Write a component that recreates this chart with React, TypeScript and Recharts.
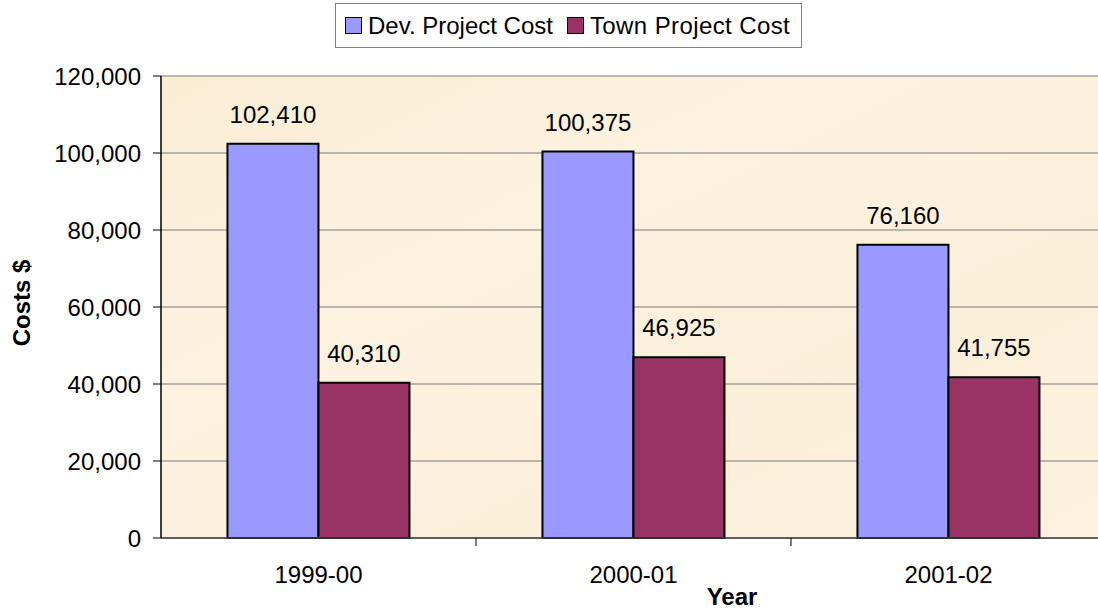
import React from 'react';
import { BarChart, Bar, XAxis, YAxis, CartesianGrid, LabelList } from 'recharts';

const categories = ['1999-00', '2000-01', '2001-02'];
const devCost = [102410, 100375, 76160];
const townCost = [40310, 46925, 41755];
const yTicks = [0, 20000, 40000, 60000, 80000, 100000, 120000];
const seriesNames = ['Dev. Project Cost', 'Town Project Cost'];

const data = categories.map((c, i) => ({ year: c, dev: devCost[i], town: townCost[i] }));

const W = 1098;
const H = 611;
const CHART_W = 1106;
const M = { top: 76, right: 0, bottom: 0, left: 0 };
const YAXIS_W = 161;
const XAXIS_H = 73;
const PLOT_W = CHART_W - M.left - M.right - YAXIS_W;
const BAND = PLOT_W / categories.length;
const FONT = '"Liberation Sans", Arial, sans-serif';
const FS = 24;
const DEV_COLOR = '#9999FF';
const TOWN_COLOR = '#993366';

const fmt = (v: number) => v.toLocaleString('en-US');

const XTick = (props: any) => {
  const { x, y, payload, index } = props;
  return (
    <g>
      {index > 0 && (
        <line x1={x - BAND / 2} x2={x - BAND / 2} y1={y} y2={y + 8} stroke="#000" strokeWidth={1} />
      )}
      <text x={x} y={y + 45} textAnchor="middle" fontFamily={FONT} fontSize={FS} fill="#000">
        {payload.value}
      </text>
    </g>
  );
};

export default function App() {
  return (
    <div style={{ position: 'absolute', left: 0, top: 0, width: W, height: H, overflow: 'hidden', background: '#fff', fontFamily: FONT }}>
      <BarChart
        width={CHART_W}
        height={H}
        data={data}
        margin={M}
        barCategoryGap="21.1%"
        barGap={0}
      >
        <defs>
          <linearGradient id="parch" x1="0" y1="0" x2="1" y2="1">
            <stop offset="0%" stopColor="#FBEDD4" />
            <stop offset="35%" stopColor="#FCF2E0" />
            <stop offset="70%" stopColor="#FBEFD9" />
            <stop offset="100%" stopColor="#FCF2DF" />
          </linearGradient>
        </defs>
        <CartesianGrid
          vertical={false}
          stroke="#7A7A7A"
          strokeWidth={1}
          fill="url(#parch)"
          fillOpacity={1}
        />
        <XAxis
          dataKey="year"
          height={XAXIS_H}
          axisLine={{ stroke: '#404040', strokeWidth: 1.5 }}
          tickLine={false}
          tickSize={0}
          tickMargin={0}
          tick={<XTick />}
          interval={0}
          label={() => (
            <text
              x={732}
              y={605}
              textAnchor="middle"
              fontFamily={FONT}
              fontSize={FS}
              fontWeight="bold"
              fill="#000"
            >
              Year
            </text>
          )}
        />
        <YAxis
          width={YAXIS_W}
          domain={[0, 120000]}
          ticks={yTicks}
          interval={0}
          tickFormatter={fmt}
          axisLine={{ stroke: '#000', strokeWidth: 1.5 }}
          tickLine={{ stroke: '#000' }}
          tickSize={8}
          tickMargin={12}
          tick={{ fontFamily: FONT, fontSize: FS, fill: '#000' }}
          label={() => (
            <text
              x={0}
              y={0}
              transform={`translate(30, 303) rotate(-90)`}
              textAnchor="middle"
              fontFamily={FONT}
              fontSize={FS}
              fontWeight="bold"
              fill="#000"
            >
              Costs $
            </text>
          )}
        />
        <Bar dataKey="dev" name={seriesNames[0]} fill={DEV_COLOR} stroke="#000" strokeWidth={2} isAnimationActive={false}>
          <LabelList dataKey="dev" position="top" offset={21} formatter={(v: any) => fmt(v)} style={{ fontFamily: FONT, fontSize: FS, fill: '#000' }} />
        </Bar>
        <Bar dataKey="town" name={seriesNames[1]} fill={TOWN_COLOR} stroke="#000" strokeWidth={2} isAnimationActive={false}>
          <LabelList dataKey="town" position="top" offset={21} formatter={(v: any) => fmt(v)} style={{ fontFamily: FONT, fontSize: FS, fill: '#000' }} />
        </Bar>
      </BarChart>
      <div
        style={{
          position: 'absolute',
          left: 335,
          top: 3,
          width: 467,
          height: 45,
          border: '1px solid #808080',
          background: '#fff',
          boxSizing: 'border-box',
          display: 'flex',
          alignItems: 'center',
          paddingLeft: 9,
          fontSize: FS,
          color: '#000',
          whiteSpace: 'nowrap',
        }}
      >
        <span style={{ display: 'inline-block', width: 17, height: 17, boxSizing: 'border-box', background: DEV_COLOR, border: '1.5px solid #000', marginRight: 6 }} />
        <span style={{ marginRight: 14 }}>{seriesNames[0]}</span>
        <span style={{ display: 'inline-block', width: 17, height: 17, boxSizing: 'border-box', background: TOWN_COLOR, border: '1.5px solid #000', marginRight: 6 }} />
        <span style={{ letterSpacing: 0.4 }}>{seriesNames[1]}</span>
      </div>
    </div>
  );
}
